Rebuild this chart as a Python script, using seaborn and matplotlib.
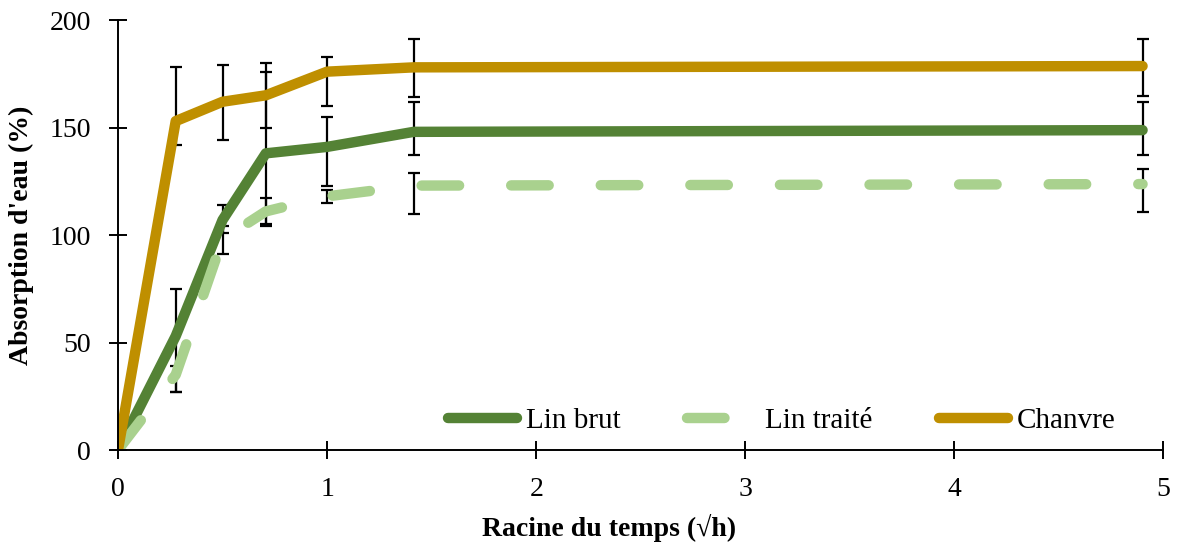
import pandas as pd
import seaborn as sns
import matplotlib.pyplot as plt

# racine du temps (sqrt h)
temps = [0, 0.276, 0.5, 0.707, 1.0, 1.414, 4.9]

lin_brut = [0, 53, 107, 138, 141, 148, 148.8]
lin_brut_haut = [0, 22, 7, 38, 14, 14, 13]
lin_brut_bas = [0, 26, 6, 34, 18, 11, 11.5]

lin_traite = [0, 35, 98, 111, 118, 123, 123.7]
lin_traite_haut = [0, 4, 6, 6, 3, 6, 7]
lin_traite_bas = [0, 8, 7, 6, 3, 13, 13]

chanvre = [0, 153, 162, 165, 176, 178, 178.6]
chanvre_haut = [0, 25, 17, 15, 7, 13, 12.5]
chanvre_bas = [0, 11, 18, 15, 16, 14, 14]

series = ['Lin brut', 'Lin traité', 'Chanvre']
colors = {'Lin brut': '#548235', 'Lin traité': '#A9D18E', 'Chanvre': '#BF8F00'}
dashes = {'Lin brut': '', 'Lin traité': (3.6, 5.0), 'Chanvre': ''}

sns.set_style('ticks')
plt.rcParams['font.family'] = ['Liberation Serif', 'DejaVu Serif']
plt.rcParams['text.color'] = 'black'
plt.rcParams['axes.labelcolor'] = 'black'
plt.rcParams['lines.solid_capstyle'] = 'round'
plt.rcParams['lines.dash_capstyle'] = 'round'

df = pd.concat([
    pd.DataFrame({'temps': temps, 'absorption': vals, 'haut': h, 'bas': b, 'serie': name})
    for name, vals, h, b in zip(series, [lin_brut, lin_traite, chanvre],
                                [lin_brut_haut, lin_traite_haut, chanvre_haut],
                                [lin_brut_bas, lin_traite_bas, chanvre_bas])
])

fig = plt.figure(figsize=(11.8, 5.42), dpi=100)
ax = fig.add_axes([0.1, 0.1697, 0.886, 0.7933])

for name in series:
    sub = df[df['serie'] == name]
    ax.errorbar(sub['temps'], sub['absorption'], yerr=[sub['bas'], sub['haut']], fmt='none',
                ecolor='black', elinewidth=1.6, capsize=4, capthick=1.6, zorder=1)

sns.lineplot(data=df, x='temps', y='absorption', hue='serie', style='serie',
             hue_order=series, style_order=series, palette=colors, dashes=dashes,
             linewidth=7.5, ax=ax, zorder=2)

ax.set_xlim(0, 5)
ax.set_ylim(0, 200)
ax.set_xticks([0, 1, 2, 3, 4, 5])
ax.set_yticks([0, 50, 100, 150, 200])
ax.tick_params(axis='both', direction='inout', length=13, width=1.4,
               labelsize=20, colors='black', pad=13)
for side in ['top', 'right']:
    ax.spines[side].set_visible(False)
for side in ['left', 'bottom']:
    ax.spines[side].set_linewidth(1.4)
    ax.spines[side].set_color('black')

ax.set_xlabel('Racine du temps (√h)', fontsize=20, fontweight='bold')
ax.set_ylabel("Absorption d'eau (%)", fontsize=20, fontweight='bold')
ax.xaxis.set_label_coords(0.47, -0.148)
ax.yaxis.set_label_coords(-0.08, 0.5)

leg = ax.legend(loc='center', bbox_to_anchor=(0.635, 0.068), ncol=3, frameon=False,
                fontsize=21, handlelength=2.35, handletextpad=0.3, columnspacing=2.3,
                borderpad=0, borderaxespad=0)
for line in leg.get_lines():
    line.set_linewidth(7.5)

fig.savefig('out.png', dpi=100)
